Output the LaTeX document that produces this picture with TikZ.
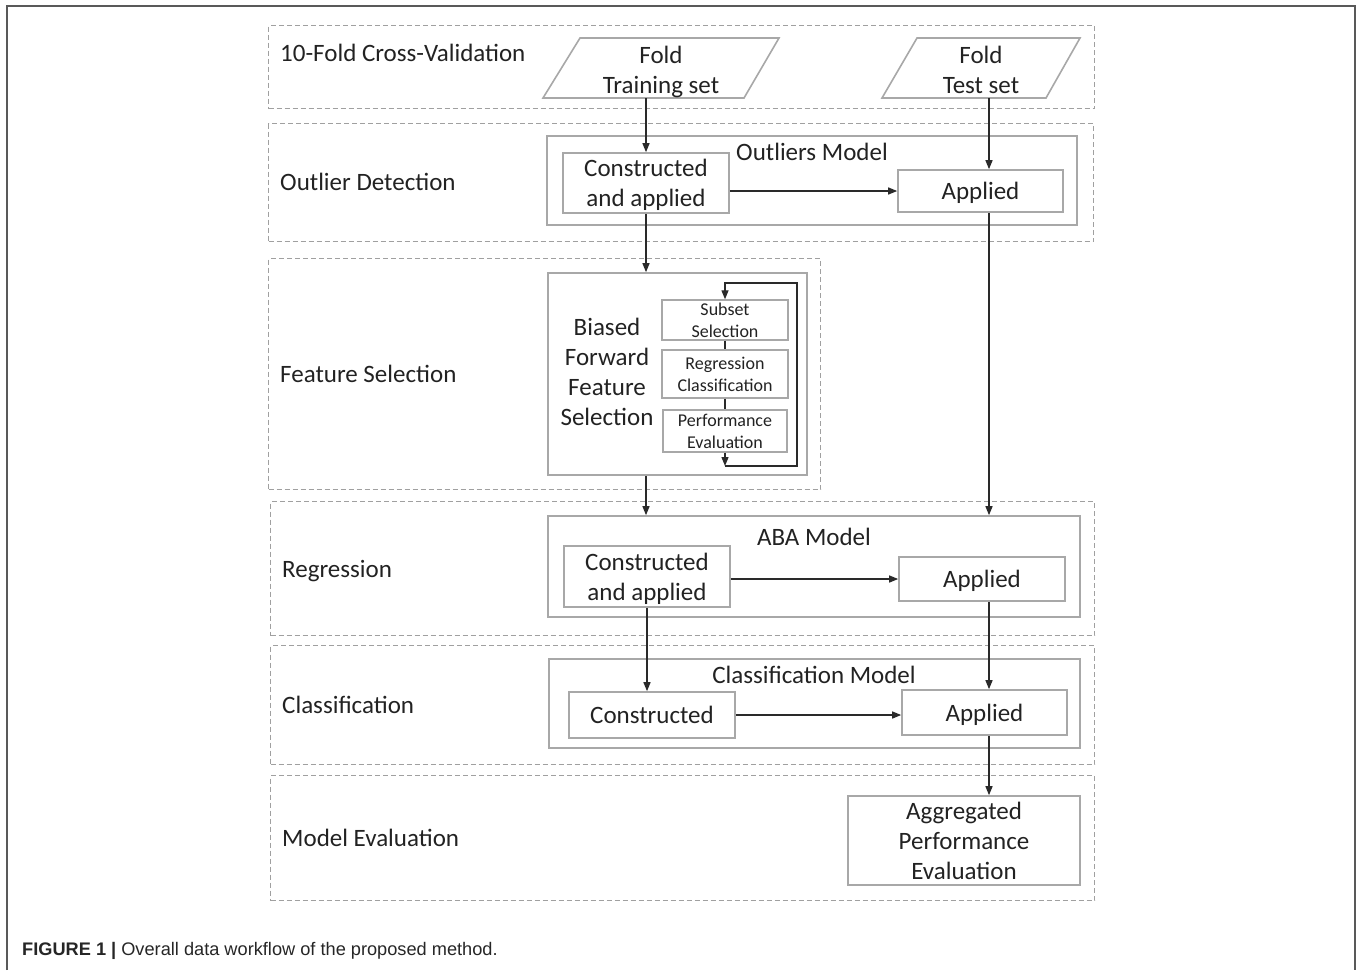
\documentclass[tikz,border=0pt]{standalone}
\usepackage{fontspec}
\setmainfont{Carlito}
\newfontfamily\capfont{Liberation Sans}
\usetikzlibrary{arrows.meta,calc}
\definecolor{boxgray}{HTML}{A8A8A8}
\definecolor{bandgray}{HTML}{A0A0A0}
\definecolor{ink}{HTML}{222222}
\definecolor{arrink}{HTML}{2A2A2A}
\begin{document}
\begin{tikzpicture}[x=1pt,y=-1pt,
  band/.style={draw=bandgray, dash pattern=on 5pt off 3pt, line width=1.3pt, inner sep=0pt, anchor=north west},
  modelbox/.style={draw=boxgray, line width=1.6pt, inner sep=0pt},
  box/.style={draw=boxgray, line width=1.6pt, inner sep=0pt, align=center, text=ink, text depth=0pt, font=\fontsize{25}{30}\selectfont},
  sbox/.style={draw=boxgray, line width=1.4pt, inner sep=0pt, align=center, text=ink, font=\fontsize{18}{22}\selectfont},
  lbl/.style={anchor=west, text=ink, inner sep=0pt, text depth=0pt, font=\fontsize{25}{30}\selectfont},
  txt/.style={text=ink, inner sep=0pt, align=center, text depth=0pt, font=\fontsize{25}{30}\selectfont},
  arr/.style={-{Triangle[length=9pt,width=7pt]}, line width=1.3pt, draw=arrink},
  ln/.style={line width=1.3pt, draw=arrink}
]
\useasboundingbox (0,0) rectangle (1357,970);
% outer frame
\draw[draw=gray!70!black, line width=2pt] (7,970) -- (7,6) -- (1355,6) -- (1355,970);

% dashed bands
\node[band, minimum width=826pt, minimum height=83pt] (b1) at (268,25) {};
\node[band, minimum width=825pt, minimum height=118pt] (b2) at (268,123) {};
\node[band, minimum width=552pt, minimum height=231pt] (b3) at (268,258) {};
\node[band, minimum width=824pt, minimum height=134pt] (b4) at (270,501) {};
\node[band, minimum width=824pt, minimum height=119pt] (b5) at (270,645) {};
\node[band, minimum width=824pt, minimum height=125pt] (b6) at (270,775) {};

% band labels
\node[lbl] (l1) at (280,53) {10-Fold Cross-Validation};
\node[lbl] (l2) at (280,182) {Outlier Detection};
\node[lbl] (l3) at (280,374) {Feature Selection};
\node[lbl] (l4) at (282,569) {Regression};
\node[lbl] (l5) at (282,705) {Classification};
\node[lbl] (l6) at (282,838) {Model Evaluation};

% parallelograms
\draw[modelbox] (580,38) -- (779,38) -- (744,98) -- (543,98) -- cycle;
\node[txt] (train) at (661,70) {Fold\\Training set};
\draw[modelbox] (917,38) -- (1080,38) -- (1046,98) -- (882,98) -- cycle;
\node[txt] (test) at (981,70) {Fold\\Test set};
\coordinate (trainb) at (646,98);
\coordinate (testb) at (989,98);

% outlier detection
\node[modelbox, minimum width=530pt, minimum height=89pt] (omodel) at (812,180.5) {};
\node[txt] (omodell) at (812,152) {Outliers Model};
\node[box, minimum width=166pt, minimum height=60pt] (ocons) at (646,183) {Constructed\\and applied};
\node[box, minimum width=165pt, minimum height=42pt] (oapp) at (980.5,191) {Applied};

% feature selection
\node[modelbox, minimum width=259pt, minimum height=202pt] (fs) at (677.5,374) {};
\node[txt] (bffs) at (607,372) {Biased\\Forward\\Feature\\Selection};
\node[sbox, minimum width=126pt, minimum height=40pt] (sub) at (725,320) {Subset\\Selection};
\node[sbox, minimum width=126pt, minimum height=48pt] (reg) at (725,374) {Regression\\Classification};
\node[sbox, minimum width=124pt, minimum height=42pt] (perf) at (725,431) {Performance\\Evaluation};
\coordinate (lb) at (725,466);
\coordinate (lt) at (725,283);

% regression
\node[modelbox, minimum width=532pt, minimum height=101pt] (aba) at (814,566.5) {};
\node[txt] (abal) at (814,537) {ABA Model};
\node[box, minimum width=166pt, minimum height=61pt] (acons) at (647,576.5) {Constructed\\and applied};
\node[box, minimum width=166pt, minimum height=44pt] (aapp) at (982,579) {Applied};

% classification
\node[modelbox, minimum width=531pt, minimum height=89pt] (cls) at (814.5,703.5) {};
\node[txt] (clsl) at (814,675) {Classification Model};
\node[box, minimum width=166pt, minimum height=46pt] (ccons) at (652,715) {Constructed};
\node[box, minimum width=165pt, minimum height=45pt] (capp) at (984.5,712.5) {Applied};

% evaluation
\node[box, minimum width=232pt, minimum height=89pt] (agg) at (964,840.5) {Aggregated\\Performance\\Evaluation};

% connectors
\draw[arr] (trainb) -- (ocons.north);
\draw[arr] (testb) -- (testb |- oapp.north);
\draw[arr] (ocons.east |- oapp.west) -- (oapp.west);
\draw[arr] (ocons.south) -- (ocons.south |- fs.north);
\draw[arr] (testb |- oapp.south) -- (testb |- aba.north);
\draw[ln] (sub.south) -- (reg.north);
\draw[ln] (reg.south) -- (perf.north);
\draw[arr] (perf.south) -- (lb);
\draw[arr] (lb) -- ++(72,0) |- (lt) -- (sub.north);
\draw[arr] (ocons.south |- fs.south) -- (ocons.south |- aba.north);
\draw[arr] (acons.east |- aapp.west) -- (aapp.west);
\draw[arr] (acons.south) -- (acons.south |- ccons.north);
\draw[arr] (testb |- aapp.south) -- (testb |- capp.north);
\draw[arr] (ccons.east) -- (ccons.east -| capp.west);
\draw[arr] (testb |- capp.south) -- (testb |- agg.north);

% caption
\node[anchor=base west, inner sep=0pt, text=black!85, font=\capfont\fontsize{18.2}{21}\selectfont] (cap) at (22,955) {\textbf{FIGURE 1 |} Overall data workflow of the proposed method.};
\end{tikzpicture}
\end{document}
